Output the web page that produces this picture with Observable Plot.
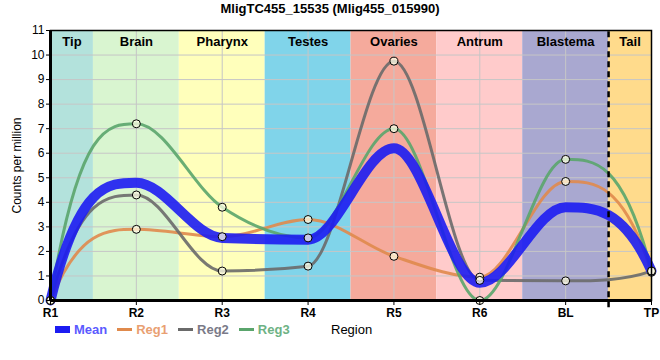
<!DOCTYPE html>
<html><head><meta charset="utf-8">
<script src="https://cdn.jsdelivr.net/npm/d3@7"></script>
<script src="https://cdn.jsdelivr.net/npm/@observablehq/plot@0.6"></script>
<style>
body{margin:0;background:#fff;font-family:Arial,"Liberation Sans",sans-serif}
#wrap{position:relative;width:660px;height:360px}
#title{position:absolute;top:1px;left:0;width:660px;text-align:center;font-weight:bold;font-size:13px;color:#000}
#legend{position:absolute;top:322px;left:55px;font-size:13px;font-weight:bold;display:flex;align-items:center;white-space:nowrap}
#legend .it{display:flex;align-items:center;margin-right:10px}
#legend .sw{display:inline-block;width:15px;margin-right:4px}
#xlabel{position:absolute;top:322px;left:331px;font-size:13px;color:#000}
</style>
</head><body>
<div id="wrap"><div id="title"></div><div id="chart"></div><div id="legend"></div><div id="xlabel"></div></div>
<script>
const titleText = "MligTC455_15535 (Mlig455_015990)";
const xLabel = "Region";
const yLabel = "Counts per million";
const regions = ["R1","R2","R3","R4","R5","R6","BL","TP"];
const meanVals = [0, 4.8, 2.55, 2.48, 6.2, 0.72, 3.8, 1.2];
const reg1 = [0, 2.9, 2.6, 3.3, 1.8, 0.95, 4.85, 1.15];
const reg2 = [0, 4.3, 1.2, 1.4, 9.75, 0.82, 0.8, 1.2];
const reg3 = [0, 7.2, 3.8, 2.55, 7.0, 0, 5.75, 1.2];
const seriesNames = ["Mean","Reg1","Reg2","Reg3"];
const seriesColors = ["#1c1cf2","#e08a4c","#6a6a6a","#5aa56c"];
const legendTextColors = ["#5a5aff","#e9a072","#7a7a88","#6db284"];
const tissues = ["Tip","Brain","Pharynx","Testes","Ovaries","Antrum","Blastema","Tail"];
const tissueStart = [0, 0.5, 1.5, 2.5, 3.5, 4.5, 5.5, 6.5];
const tissueEnd = [0.5, 1.5, 2.5, 3.5, 4.5, 5.5, 6.5, 7];
const tissueColors = ["#b3e2dc","#d9f5d0","#ffffbb","#80d4ea","#f5aa9c","#ffcbcb","#a9a8d0","#ffdb8c"];
const yTicks = [0,1,2,3,4,5,6,7,8,9,10,11];
const tailBoundary = [6.5];

// Monotone cubic curve factory: flat at local extrema, steep (3x secant) at the ends
function endSteepMonotone(context) {
  let xs = [], ys = [];
  return {
    areaStart(){}, areaEnd(){},
    lineStart(){ xs = []; ys = []; },
    point(x, y){ xs.push(+x); ys.push(+y); },
    lineEnd(){
      const n = xs.length;
      if (!n) return;
      context.moveTo(xs[0], ys[0]);
      if (n === 1) return;
      const s = [];
      for (let i = 0; i < n-1; i++) s.push((ys[i+1]-ys[i])/(xs[i+1]-xs[i]));
      const m = new Array(n);
      m[0] = 3*s[0];
      m[n-1] = 3*s[n-2];
      for (let i = 1; i < n-1; i++) {
        const s0 = s[i-1], s1 = s[i];
        if (s0*s1 <= 0) { m[i] = 0; continue; }
        const h0 = xs[i]-xs[i-1], h1 = xs[i+1]-xs[i];
        const p = (s0*h1 + s1*h0)/(h0+h1);
        m[i] = Math.sign(s0)*Math.min(Math.abs(s0), Math.abs(s1), 0.5*Math.abs(p))*2;
        m[i] = Math.sign(s0)*Math.min(Math.abs(m[i]), 2*Math.min(Math.abs(s0), Math.abs(s1)), Math.abs(p));
      }
      for (let i = 0; i < n-1; i++) {
        const h = xs[i+1]-xs[i];
        context.bezierCurveTo(xs[i]+h/3, ys[i]+m[i]*h/3, xs[i+1]-h/3, ys[i+1]-m[i+1]*h/3, xs[i+1], ys[i+1]);
      }
    }
  };
}

const tissueRows = tissues.map((t,k)=>({name:t, start:tissueStart[k], end:tissueEnd[k], mid:(tissueStart[k]+tissueEnd[k])/2, color:tissueColors[k]}));
const seriesVals = [meanVals, reg1, reg2, reg3];
const rows = (k) => seriesVals[k].map((v,i)=>({series:seriesNames[k], i, v}));
const regPoints = [1,2,3].flatMap(rows);

document.getElementById("title").textContent = titleText;
document.getElementById("xlabel").textContent = xLabel;

const chart = Plot.plot({
  width:660, height:360,
  marginTop:30, marginBottom:60, marginLeft:50, marginRight:9,
  style:{fontFamily:"Arial, 'Liberation Sans', sans-serif", fontSize:"12px", background:"white", color:"black"},
  color:{type:"identity"},
  x:{domain:[0,7]},
  y:{domain:[0,11]},
  marks:[
    Plot.rectX(tissueRows, {x1:"start", x2:"end", y1:0, y2:11, fill:"color"}),
    Plot.gridX(regions.map((r,i)=>i), {stroke:"#c6c6c6", strokeOpacity:1, strokeWidth:1}),
    Plot.gridY(yTicks, {stroke:"#c6c6c6", strokeOpacity:1, strokeWidth:1}),
    Plot.text(tissueRows, {x:"mid", y:11, text:"name", dy:11, fontWeight:"bold", fontSize:13, fill:"black"}),
    Plot.line(rows(1), {x:"i", y:"v", curve:endSteepMonotone, stroke:seriesColors[1], strokeWidth:3, strokeOpacity:0.9}),
    Plot.line(rows(2), {x:"i", y:"v", curve:endSteepMonotone, stroke:seriesColors[2], strokeWidth:3, strokeOpacity:0.9}),
    Plot.line(rows(3), {x:"i", y:"v", curve:endSteepMonotone, stroke:seriesColors[3], strokeWidth:3, strokeOpacity:0.9}),
    Plot.line(rows(0), {x:"i", y:"v", curve:endSteepMonotone, stroke:seriesColors[0], strokeWidth:10, strokeOpacity:0.9}),
    Plot.dot(regPoints, {x:"i", y:"v", r:4, fill:"#fffde6", fillOpacity:0.75, stroke:"black", strokeWidth:1}),
    Plot.ruleX(tailBoundary, {y1:-0.3, y2:11, stroke:"black", strokeWidth:2.5, strokeDasharray:"6,4"}),
    Plot.frame({stroke:"black", strokeWidth:1.5}),
    Plot.ruleX([0], {stroke:"black", strokeWidth:3}),
    Plot.ruleY([0], {stroke:"black", strokeWidth:3}),
    Plot.axisX(regions.map((r,i)=>i), {tickFormat:i=>regions[i], tickSize:5, tickPadding:3, fontWeight:"bold", fontSize:12, label:null}),
    Plot.axisY(yTicks, {tickSize:4, tickPadding:2, fontSize:12,
      label:yLabel, labelAnchor:"center", labelArrow:"none", labelOffset:38})
  ]
});
document.getElementById("chart").appendChild(chart);

const lg = document.getElementById("legend");
seriesNames.forEach((n,k)=>{
  const it = document.createElement("span"); it.className="it";
  const sw = document.createElement("span"); sw.className="sw";
  sw.style.height = k===0 ? "7px" : "3px";
  sw.style.background = seriesColors[k];
  const tx = document.createElement("span"); tx.textContent = n; tx.style.color = legendTextColors[k];
  it.appendChild(sw); it.appendChild(tx); lg.appendChild(it);
});
</script>
</body></html>
